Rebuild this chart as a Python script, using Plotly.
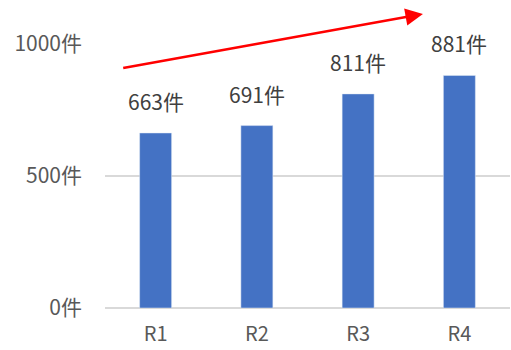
import plotly.graph_objects as go

categories = ["R1", "R2", "R3", "R4"]
values = [663, 691, 811, 881]
tick_vals = [0, 500, 1000]
tick_text = ["0件", "500件", "1000件"]
arrow_tail = (-0.335, 908)
arrow_head = (2.64, 1114)

font_family = "Noto Sans CJK JP, Noto Sans, sans-serif"
fs = 21

fig = go.Figure()
fig.add_trace(go.Bar(x=categories, y=values, marker_color="#4472C4", width=0.316,
                     hoverinfo="skip"))

for c, v in zip(categories, values):
    fig.add_annotation(x=c, y=v, text=f"{v}件", showarrow=False, yanchor="middle",
                       yshift=32, font=dict(size=fs, color="#404040", family=font_family))

fig.add_annotation(x=arrow_head[0], y=arrow_head[1], ax=arrow_tail[0], ay=arrow_tail[1],
                   xref="x", yref="y", axref="x", ayref="y", text="", showarrow=True,
                   arrowhead=2, arrowsize=1.4, arrowwidth=2.5, arrowcolor="#FF0000",
                   standoff=0, startstandoff=0)

fig.update_layout(
    width=511, height=350,
    margin=dict(l=105, r=1, t=44, b=42, autoexpand=False),
    plot_bgcolor="white", paper_bgcolor="white",
    showlegend=False,
    font=dict(family=font_family, size=fs, color="#595959"),
)
fig.update_xaxes(range=[-0.5, 3.5], showgrid=False, showline=False, ticks="",
                 automargin=False,
                 ticklabelstandoff=12, tickfont=dict(size=20, color="#595959"))
fig.update_yaxes(range=[0, 1000], tickvals=tick_vals, ticktext=tick_text,
                 automargin=False,
                 showgrid=True, gridcolor="#D9D9D9", gridwidth=1.5,
                 zeroline=True, zerolinecolor="#D9D9D9", zerolinewidth=1.5,
                 showline=False, ticks="", ticklabelstandoff=22,
                 tickfont=dict(size=fs, color="#595959"))

fig.write_html("out.html")
